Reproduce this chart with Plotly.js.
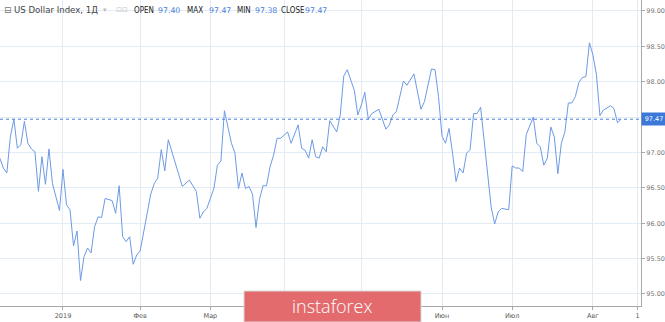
<!DOCTYPE html>
<html>
<head>
<meta charset="utf-8">
<script src="https://cdn.plot.ly/plotly-3.0.1.min.js"></script>
<style>html,body{margin:0;padding:0;background:#fff;}#chart{width:665px;height:322px;}</style>
</head>
<body>
<div id="chart"></div>
<script>
// bar index (trading days, 0 = first bar of January 2019)
var barIndex = [-18,-17,-16,-15,-14,-13,-12,-11,-10,-9,-8,-7,-6,-5,-4,-3,-1,0,1,2,3,4,5,6,7,8,9,10,11,12,14,15,16,17,18,19,20,21,22,23,24,25,26,27,28,29,30,31,32,34,36,38,39,40,41,43,44,45,46,48,49,50,51,52,53,54,55,56,57,58,59,60,61,62,64,65,67,68,69,70,71,72,73,74,75,76,78,79,80,81,83,84,85,86,87,88,90,92,93,94,95,97,98,100,102,103,105,106,107,108,109,110,111,112,113,114,115,116,117,118,119,120,122,123,124,125,127,128,129,130,131,132,134,135,136,137,138,139,140,141,142,143,144,145,146,147,148,149,150,151,152,153,154,156,157,158,159];
var closeValues = [96.92,96.78,96.71,97.22,97.47,97.06,97.11,97.44,97.13,97.05,97.01,96.45,96.94,96.55,97.05,96.56,96.18,96.76,96.26,96.19,95.68,95.89,95.19,95.53,95.65,95.58,95.95,96.09,96.08,96.35,96.32,96.14,96.53,95.81,95.74,95.81,95.42,95.55,95.61,95.86,96.14,96.41,96.56,96.64,97.04,96.74,97.18,97.01,96.87,96.52,96.61,96.45,96.07,96.16,96.21,96.49,96.82,96.88,97.59,97.13,96.99,96.49,96.71,96.49,96.52,96.41,95.94,96.34,96.53,96.53,96.80,96.96,97.20,97.20,97.29,97.13,97.39,97.06,97.03,96.92,97.18,96.94,96.92,97.08,97.01,97.45,97.29,97.53,98.08,98.17,97.88,97.53,97.67,97.85,97.47,97.55,97.61,97.33,97.39,97.53,97.58,98.01,97.95,98.11,97.61,97.72,98.18,98.17,97.79,97.23,97.13,97.34,96.99,96.59,96.78,96.71,96.99,97.04,97.55,97.55,97.64,97.20,96.23,95.99,96.16,96.21,96.19,96.81,96.78,96.78,96.73,97.25,97.50,97.13,97.08,96.82,96.92,97.36,97.22,96.70,97.13,97.29,97.70,97.70,97.79,97.99,98.06,98.07,98.55,98.38,98.10,97.52,97.60,97.66,97.62,97.42,97.47];
// month gridlines; Апр and Май labels are hidden behind the logo in the reference
var monthTickBars = [0,22,42,63,85,108,128,151,163.7];
var monthTickLabels = ['2019','Фев','Мар','','','Июн','Июл','Авг','1'];
var priceTicks = [95,95.5,96,96.5,97,97.5,98,98.5,99];
// 97.50 label is covered by the last-price marker in the reference
var priceTickLabels = ['95.00','95.50','96.00','96.50','97.00','','98.00','98.50','99.00'];
var lastClose = 97.47;
var ohlc = {open: '97.40', max: '97.47', min: '97.38', close: '97.47'};

var W = 641; // plot width in px (for header placement)
function px(x){ return x / W; }
var hdrY = 0.967;
var blue = '#4a80d8';
var ann = [];
function hdr(x, text, color, size, fam){
  ann.push({xref:'paper', yref:'paper', x:px(x), y:hdrY, xanchor:'left', yanchor:'middle',
    text:text, showarrow:false, font:{family:fam||'DejaVu Sans', size:size||8, color:color}});
}
hdr(2, '⊟', '#777', 9);
hdr(12, 'US Dollar Index, 1Д', '#444', 8.6);
hdr(101, '▾', '#bbb', 7);
hdr(114, '⊡⊡', '#c8c8c8', 7);
hdr(132, 'OPEN', '#222', 8, 'DejaVu Sans Condensed');
hdr(156, ohlc.open, blue, 7.8);
hdr(185, 'MAX', '#222', 8, 'DejaVu Sans Condensed');
hdr(207, ohlc.max, blue, 7.8);
hdr(235, 'MIN', '#222', 8, 'DejaVu Sans Condensed');
hdr(253, ohlc.min, blue, 7.8);
hdr(279, 'CLOSE', '#222', 8, 'DejaVu Sans Condensed');
hdr(303, ohlc.close, blue, 7.8);

// last price label
ann.push({xref:'paper', yref:'y', x:1, y:lastClose, xanchor:'left', yanchor:'middle',
  text:lastClose.toFixed(2), showarrow:false, bgcolor:'#3c78d8', borderpad:2, width:20,
  font:{family:'DejaVu Sans', size:6.5, color:'#fff'}});
// logo text
ann.push({xref:'paper', yref:'paper', x:px(332), y:0.0, xanchor:'center', yanchor:'middle',
  text:'instaforex', showarrow:false, font:{family:'Open Sans', size:18, weight:300, color:'#fff'}});

var trace = {x: barIndex, y: closeValues, type:'scatter', mode:'lines',
  line:{color:'#6d9ae6', width:1}, hoverinfo:'skip'};

var layout = {
  width:665, height:322,
  margin:{l:0, r:24, t:0, b:16},
  paper_bgcolor:'#fff', plot_bgcolor:'#fff',
  showlegend:false,
  xaxis:{range:[-17.95,164.7], tickvals:monthTickBars, ticktext:monthTickLabels,
    showgrid:true, gridcolor:'#e3ebf5', gridwidth:1, zeroline:false,
    showline:true, linecolor:'#a8a8a8', linewidth:1,
    ticks:'outside', ticklen:3, tickcolor:'#a8a8a8',
    tickfont:{family:'DejaVu Sans', size:6.5, color:'#555'}},
  yaxis:{range:[94.83,99.155], side:'right', tickvals:priceTicks, ticktext:priceTickLabels,
    showgrid:true, gridcolor:'#e3ebf5', gridwidth:1, zeroline:false,
    showline:true, linecolor:'#a8a8a8', linewidth:1,
    ticks:'outside', ticklen:3, tickcolor:'#a8a8a8',
    tickfont:{family:'DejaVu Sans', size:6.5, color:'#777'}},
  shapes:[
    {type:'line', xref:'paper', yref:'y', x0:0, x1:1, y0:lastClose, y1:lastClose,
      line:{color:'#4a80d8', width:1, dash:'dot'}},
    {type:'rect', xref:'paper', yref:'paper', x0:px(244), x1:px(421), y0:-0.0523, y1:0.049,
      fillcolor:'#e36b6d', line:{color:'#d9d9d9', width:1}, layer:'above'}
  ],
  annotations: ann
};
Plotly.newPlot('chart', [trace], layout, {staticPlot:true, displayModeBar:false});
</script>
</body>
</html>
